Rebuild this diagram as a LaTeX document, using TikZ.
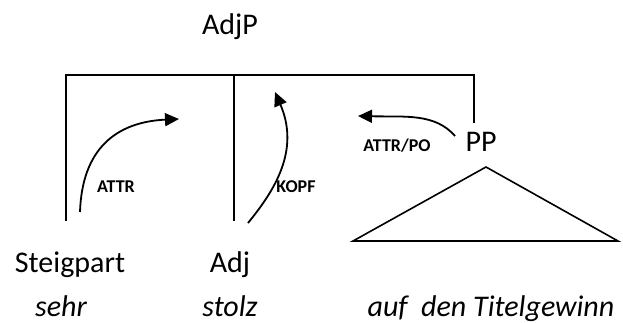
\documentclass[tikz,border=0pt]{standalone}
\usepackage{fontspec}
\setmainfont{Carlito}
\usetikzlibrary{arrows.meta}
\tikzset{
  big/.style={font=\fontsize{30}{36}\selectfont, inner sep=0pt, anchor=base},
  word/.style={font=\fontsize{30}{36}\selectfont\itshape, inner sep=0pt, anchor=base},
  rel/.style={font=\fontsize{18}{22}\selectfont\bfseries, inner sep=0pt, anchor=base},
  bar/.style={line width=1.7pt, line cap=rect},
  dep/.style={line width=1.8pt, -{Triangle[length=14pt,width=13pt]}},
}
\begin{document}
\begin{tikzpicture}[x=1pt,y=-1pt]
\useasboundingbox (0,0) rectangle (623,322);
% labels
\node[big] (adjp) at (230,34) {AdjP};
\node[big] (steig) at (70,272) {Steigpart};
\node[big] (adj) at (230,272) {Adj};
\node[big] (pp) at (481,151) {PP};
\node[word] (sehr) at (61,316) {sehr};
\node[word] (stolz) at (230,316) {stolz};
\node[word] (auf) at (491,316) {auf\ \ den Titelgewinn};
\node[rel] (attr) at (116,192) {ATTR};
\node[rel] (kopf) at (296,192) {KOPF};
\node[rel] (attrpo) at (397,151) {ATTR/PO};
% bracket
\coordinate (tl) at (66,75);
\coordinate (tm) at (234,75);
\coordinate (tr) at (474,75);
\coordinate (bl) at (66,220);
\coordinate (bm) at (234,220);
\coordinate (br) at (474,122);
\draw[bar] (bl) -- (tl) -- (tr) -- (br);
\draw[bar] (tm) -- (bm);
% triangle
\coordinate (apex) at (486,167);
\coordinate (tbl) at (353,241);
\coordinate (tbr) at (618,241);
\draw[line width=1.6pt, line join=miter] (apex) -- (tbl) -- (tbr) -- cycle;
% arrows
\coordinate (a1s) at (80,212);
\coordinate (a1e) at (179,119);
\draw[dep] (a1s) .. controls (82,150) and (115,122) .. (a1e);
\coordinate (a2s) at (248,223);
\coordinate (a2e) at (275,92);
\draw[dep] (a2s) .. controls (275,190) and (300,150) .. (a2e);
\coordinate (a3s) at (455,136);
\coordinate (a3e) at (358,116);
\draw[dep] (a3s) .. controls (435,113) and (405,117) .. (a3e);
\end{tikzpicture}
\end{document}
